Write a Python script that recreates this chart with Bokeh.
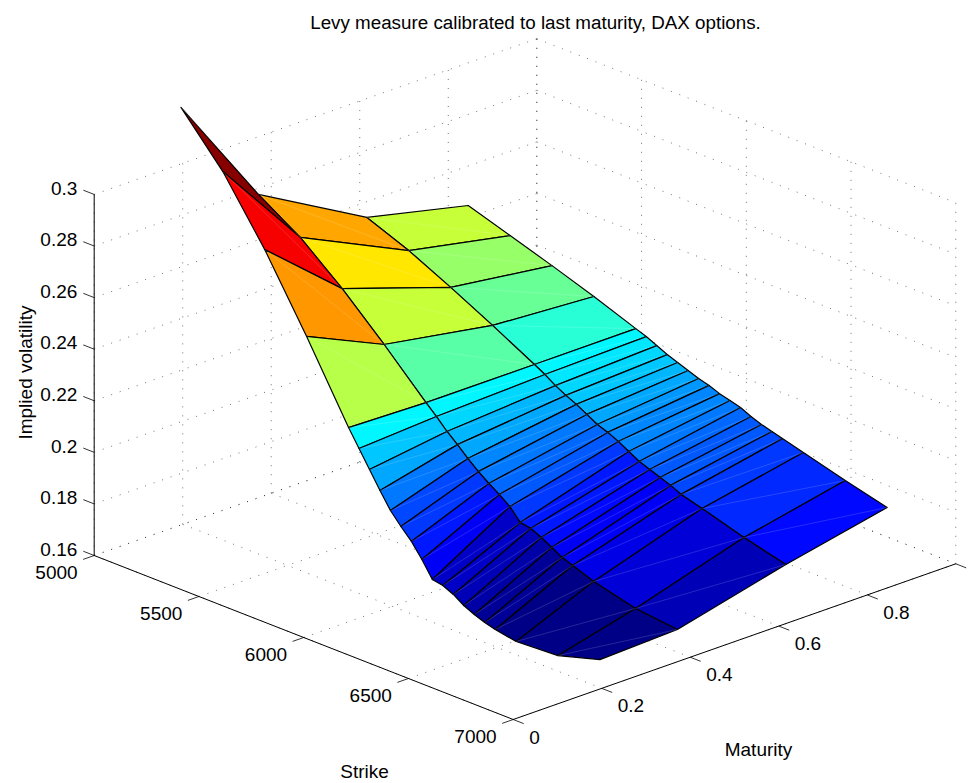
from math import pi
from bokeh.plotting import figure
from bokeh.models import ColumnDataSource, Range1d, LinearColorMapper, Label
from bokeh.core.properties import value
from bokeh.embed import file_html
from bokeh.resources import INLINE

TITLE = "Levy measure calibrated to last maturity, DAX options."
XLABEL = "Strike"
YLABEL = "Maturity"
ZLABEL = "Implied volatility"

strikes = [5000, 5200, 5400, 5600, 5800, 5850, 5900, 5950, 6000, 6050, 6100,
           6150, 6200, 6250, 6300, 6350, 6400, 6450, 6500, 6600, 6800, 7000]
maturities = [0.196, 0.371, 0.616, 0.845]

vol_t1 = [.3219, .3034, .2795, .2522, .2232, .2167, .2101, .2036, .1974, .1928, .1886,
          .1832, .1770, .1763, .1744, .1717, .1698, .1683, .1672, .1657, .1666, .1714]
vol_t2 = [.2776, .2673, .2538, .2385, .2223, .2185, .2143, .2108, .2070, .2035, .2005,
          .1978, .1947, .1901, .1894, .1875, .1852, .1829, .1814, .1784, .1743, .1725]
vol_t3 = [.2539, .2474, .2395, .2311, .2223, .2200, .2173, .2151, .2132, .2109, .2086,
          .2071, .2052, .2029, .2006, .1991, .1976, .1961, .1942, .1919, .1870, .1829]
vol_t4 = [.2447, .2394, .2341, .2285, .2224, .2209, .2190, .2171, .2156, .2141, .2126,
          .2115, .2099, .2088, .2077, .2058, .2043, .2032, .2020, .1998, .1953, .1912]
vols = [vol_t1, vol_t2, vol_t3, vol_t4]

strike_ticks = [5000, 5500, 6000, 6500, 7000]
maturity_ticks = [0, 0.2, 0.4, 0.6, 0.8, 1.0]
maturity_labels = ["0", "0.2", "0.4", "0.6", "0.8", ""]
vol_ticks = [0.16, 0.18, 0.20, 0.22, 0.24, 0.26, 0.28, 0.30]
vol_labels = ["0.16", "0.18", "0.2", "0.22", "0.24", "0.26", "0.28", "0.3"]

S0, S1, T0, T1, Z0, Z1 = 5000, 7000, 0.0, 1.0, 0.16, 0.30


def px(s, t, z):
    """Orthographic view of the 3D box, as page pixels."""
    return 93.7 + 0.2095 * (s - S0) + 442.6 * t


def py(s, t, z):
    return 555.0 + 0.082 * (s - S0) - 155.7 * t - 2579.0 * (z - Z0)


def jet(n):
    out = []
    for i in range(n):
        u = (i + 0.5) / n
        c = [max(0.0, min(1.0, 1.5 - abs(4 * u - k))) for k in (3, 2, 1)]
        out.append("#%02x%02x%02x" % tuple(int(round(v * 255)) for v in c))
    return out


p = figure(width=972, height=783, output_backend="svg", toolbar_location=None,
           x_range=Range1d(0, 972), y_range=Range1d(783, 0), min_border=0,
           outline_line_color=None)
p.axis.visible = False
p.grid.visible = False


def seg(lines, color="black", width=0.8, dash="solid", alpha=1.0):
    xs0 = [px(*a) for a, b in lines]
    ys0 = [py(*a) for a, b in lines]
    xs1 = [px(*b) for a, b in lines]
    ys1 = [py(*b) for a, b in lines]
    p.segment(xs0, ys0, xs1, ys1, line_color=color, line_width=width,
              line_dash=dash, line_alpha=alpha)


# dotted grid on the floor and the two back walls
grid = []
for s in strike_ticks:
    grid.append(((s, T0, Z0), (s, T1, Z0)))
    grid.append(((s, T1, Z0), (s, T1, Z1)))
for t in maturity_ticks:
    grid.append(((S0, t, Z0), (S1, t, Z0)))
    grid.append(((S0, t, Z0), (S0, t, Z1)))
for z in vol_ticks:
    grid.append(((S0, T0, z), (S0, T1, z)))
    grid.append(((S0, T1, z), (S1, T1, z)))
seg(grid, width=0.7, dash="1 8", alpha=0.8)

# axis lines and ticks
seg([((S0, T0, Z0), (S0, T0, Z1)), ((S0, T0, Z0), (S1, T0, Z0)), ((S1, T0, Z0), (S1, T1, Z0))], width=1.0)
ZTICK, STICK, MTICK = -52, -0.025, 50
seg([((S0, T0, z), (S0 + ZTICK, T0, z)) for z in vol_ticks]
    + [((s, T0, Z0), (s, T0 + STICK, Z0)) for s in strike_ticks]
    + [((S1, t, Z0), (S1 + MTICK, t, Z0)) for t in maturity_ticks], width=0.8)

# surface, back to front, coloured by the first corner of every face
faces = {"xs": [], "ys": [], "z": []}
diag = []
for i in range(len(strikes) - 1):
    for j in range(len(maturities) - 2, -1, -1):
        corners = [(strikes[a], maturities[b], vols[b][a])
                   for a, b in ((i, j), (i, j + 1), (i + 1, j + 1), (i + 1, j))]
        faces["xs"].append([px(*c) for c in corners])
        faces["ys"].append([py(*c) for c in corners])
        faces["z"].append(vols[j][i])
        diag.append((corners[0], corners[2]))

all_z = [v for row in vols for v in row]
mapper = LinearColorMapper(palette=jet(64), low=min(all_z), high=max(all_z))
p.patches("xs", "ys", source=ColumnDataSource(faces),
          fill_color={"field": "z", "transform": mapper},
          line_color="black", line_width=1.2, line_join="round")
seg(diag, color="white", width=0.5, alpha=0.3)

# tick labels
FONT = value("Liberation Sans")
TICK_PX = "19px"


def labels(xs, ys, texts, align):
    p.text(xs, ys, text=texts, text_font=FONT, text_font_size=TICK_PX, text_color="black",
           text_align=align, text_baseline="middle")


labels([px(S0 + ZTICK, T0, z) - 6 for z in vol_ticks],
       [py(S0 + ZTICK, T0, z) - 2 for z in vol_ticks], vol_labels, "right")
labels([px(s, T0 + STICK, Z0) - 5.5 for s in strike_ticks],
       [py(s, T0 + STICK, Z0) + 13.5 for s in strike_ticks], [str(s) for s in strike_ticks], "right")
labels([px(S1 + MTICK, t, Z0) + 5.5 for t in maturity_ticks],
       [py(S1 + MTICK, t, Z0) + 13.5 for t in maturity_ticks], maturity_labels, "left")

for text, x, y, angle, size in [(TITLE, 535, 22, 0, "18.8px"), (XLABEL, 364, 771, 0, "19px"),
                                (YLABEL, 758, 749, 0, "19px"), (ZLABEL, 25, 372, pi / 2, "19px")]:
    p.add_layout(Label(x=x, y=y, text=text, text_font="Liberation Sans", text_font_size=size,
                       text_color="black", text_align="center", text_baseline="middle", angle=angle))

open("out.html", "w").write(file_html(p, INLINE))
